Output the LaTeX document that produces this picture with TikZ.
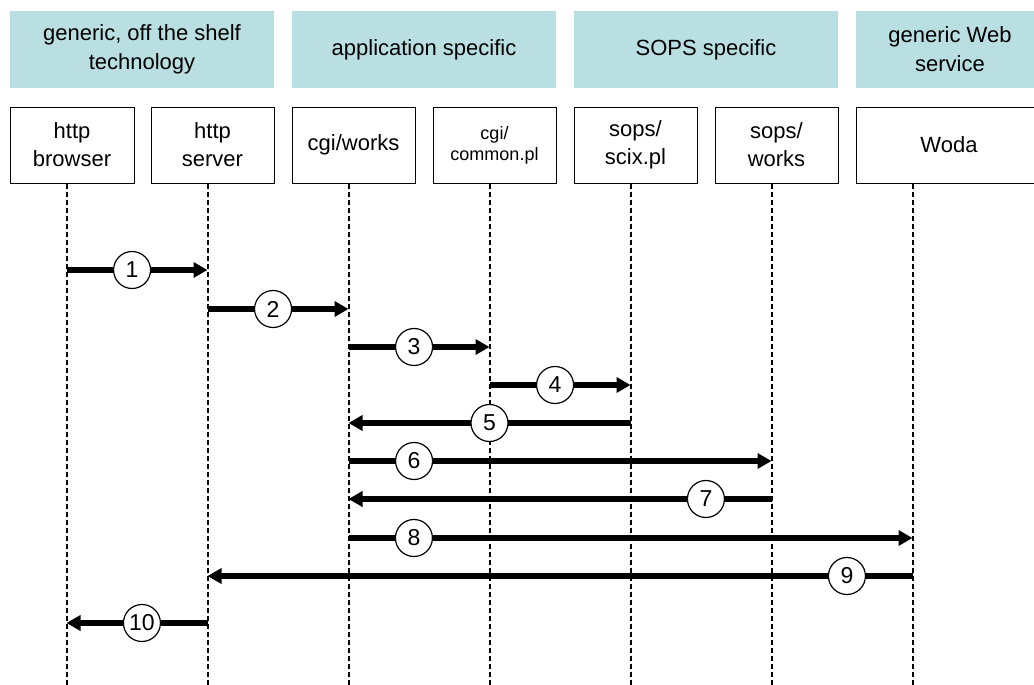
\documentclass[tikz,border=0pt]{standalone}
\usepackage{fontspec}
\setmainfont{Liberation Sans}
\usepackage{tikz}
\usepackage{xcolor}
\usetikzlibrary{arrows.meta}
\definecolor{layerteal}{RGB}{185,223,226}

\begin{document}
\begin{tikzpicture}[x=1pt, y=-1pt]
    % Define styles
    \tikzstyle{layer} = [rectangle, minimum height=77pt, text centered, fill=layerteal, font=\fontsize{22}{29}\selectfont, align=center, inner sep=0pt]
    \tikzstyle{actor} = [rectangle, minimum height=76pt, text centered, draw=black, line width=1pt, fill=white, font=\fontsize{22}{28}\selectfont, align=center, inner sep=0pt]
    \tikzstyle{lifeline} = [dash pattern=on 5pt off 3pt, line width=2pt]
    \tikzstyle{msg} = [line width=5.5pt, -{Triangle[length=14pt,width=15pt]}]
    \tikzstyle{num} = [circle, draw=black, line width=1.2pt, fill=white, inner sep=0pt, minimum size=37pt, font=\fontsize{23}{23}\selectfont]

    \clip (0,0) rectangle (1034,685);

    % Header row - layers
    \node (offshelf) [layer, minimum width=264pt] at (142,49.5) {generic, off the shelf\\technology};
    \node (appspec) [layer, minimum width=264pt] at (424,49.5) {application specific};
    \node (sopsspec) [layer, minimum width=264pt] at (706,49.5) {SOPS specific};
    \node (webserv) [layer, minimum width=188pt] at (950,49.5) {generic Web\\service};

    % Second row - components
    \node (browser) [actor, minimum width=124pt] at (72,145) {http\\browser};
    \node (server) [actor, minimum width=123pt] at (212.5,145) {http\\server};
    \node (cgiworks) [actor, minimum width=123pt] at (353.5,145) {cgi/works};
    \node (common) [actor, minimum width=123pt, font=\fontsize{18}{21}\selectfont] at (494.5,145) {cgi/\\common.pl};
    \node (scix) [actor, minimum width=123pt] at (635.5,145) {sops/\\scix.pl};
    \node (sopsworks) [actor, minimum width=123pt] at (776.5,145) {sops/\\works};
    \node (woda) [actor, minimum width=186pt] at (949,145) {Woda};

    % Lifelines
    \foreach \a in {browser,server,cgiworks,common,scix,sopsworks,woda} {
        \path (\a.south west) ++(57,0) coordinate (\a-l);
        \draw [lifeline] (\a-l) -- (\a-l |- 0,685);
    }

    % Messages
    \draw [msg] (browser-l |- 0,270) -- node[num, pos=0.465] (n1) {1} (server-l |- 0,270);
    \draw [msg] (server-l |- 0,309) -- node[num, pos=0.465] (n2) {2} (cgiworks-l |- 0,309);
    \draw [msg] (cgiworks-l |- 0,347) -- node[num, pos=0.465] (n3) {3} (common-l |- 0,347);
    \draw [msg] (common-l |- 0,385) -- node[num, pos=0.465] (n4) {4} (scix-l |- 0,385);
    \draw [msg] (scix-l |- 0,423) -- node[num, pos=0.5] (n5) {5} (cgiworks-l |- 0,423);
    \draw [msg] (cgiworks-l |- 0,461) -- node[num, pos=0.155] (n6) {6} (sopsworks-l |- 0,461);
    \draw [msg] (sopsworks-l |- 0,499) -- node[num, pos=0.155] (n7) {7} (cgiworks-l |- 0,499);
    \draw [msg] (cgiworks-l |- 0,538) -- node[num, pos=0.116] (n8) {8} (woda-l |- 0,538);
    \draw [msg] (woda-l |- 0,576) -- node[num, pos=0.093] (n9) {9} (server-l |- 0,576);
    \draw [msg] (server-l |- 0,623) -- node[num, pos=0.465] (n10) {10} (browser-l |- 0,623);
\end{tikzpicture}
\end{document}
